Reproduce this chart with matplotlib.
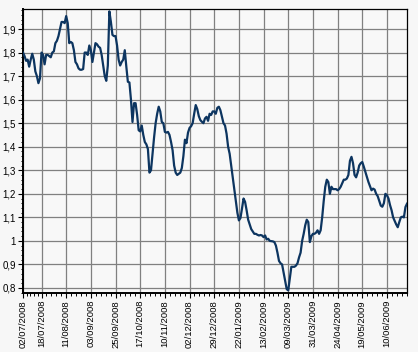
import matplotlib
matplotlib.use("Agg")
import matplotlib.pyplot as plt
import pandas as pd
import numpy as np

# Trading calendar (Borsa Italiana closures)
start_date = "2008-07-02"
n_days = 250
holidays = ["2008-08-15", "2008-12-24", "2008-12-25", "2008-12-26", "2008-12-31",
            "2009-01-01", "2009-04-10", "2009-04-13", "2009-05-01"]

values = [
    1.80, 1.785, 1.765, 1.77, 1.74, 1.77, 1.795, 1.77, 1.72, 1.70,
    1.67, 1.69, 1.80, 1.79, 1.75, 1.79, 1.79, 1.785, 1.78, 1.80,
    1.805, 1.84, 1.85, 1.87, 1.90, 1.93, 1.93, 1.925, 1.955, 1.925,
    1.84, 1.845, 1.84, 1.81, 1.76, 1.75, 1.733, 1.727, 1.727, 1.73,
    1.80, 1.80, 1.79, 1.83, 1.81, 1.76, 1.80, 1.84, 1.835, 1.825,
    1.82, 1.79, 1.745, 1.70, 1.68, 1.745, 1.975, 1.93, 1.875, 1.87,
    1.87, 1.83, 1.77, 1.745, 1.76, 1.77, 1.81, 1.74, 1.676, 1.673,
    1.60, 1.505, 1.585, 1.585, 1.535, 1.47, 1.465, 1.49, 1.45, 1.42,
    1.41, 1.39, 1.29, 1.30, 1.37, 1.44, 1.50, 1.54, 1.57, 1.55,
    1.505, 1.50, 1.463, 1.46, 1.463, 1.45, 1.42, 1.385, 1.32, 1.29,
    1.28, 1.285, 1.29, 1.31, 1.36, 1.43, 1.415, 1.46, 1.48, 1.487,
    1.50, 1.54, 1.577, 1.56, 1.53, 1.513, 1.506, 1.50, 1.52, 1.527,
    1.51, 1.54, 1.535, 1.55, 1.55, 1.54, 1.565, 1.57, 1.555, 1.527,
    1.50, 1.49, 1.455, 1.40, 1.37, 1.32, 1.27, 1.22, 1.17, 1.12,
    1.087, 1.097, 1.137, 1.18, 1.166, 1.13, 1.09, 1.07, 1.05, 1.04,
    1.03, 1.03, 1.026, 1.023, 1.025, 1.023, 1.016, 1.023, 1.006, 1.009,
    1.00, 0.999, 0.998, 0.995, 0.98, 0.95, 0.915, 0.905, 0.90, 0.865,
    0.83, 0.795, 0.79, 0.84, 0.89, 0.89, 0.89, 0.895, 0.905, 0.93,
    0.95, 1.00, 1.03, 1.066, 1.09, 1.08, 0.995, 1.02, 1.03, 1.03,
    1.035, 1.045, 1.03, 1.045, 1.10, 1.17, 1.23, 1.26, 1.25, 1.20,
    1.23, 1.22, 1.22, 1.22, 1.215, 1.22, 1.23, 1.245, 1.26, 1.26,
    1.265, 1.28, 1.34, 1.357, 1.33, 1.28, 1.27, 1.29, 1.32, 1.33,
    1.335, 1.315, 1.293, 1.27, 1.25, 1.232, 1.215, 1.222, 1.218, 1.20,
    1.19, 1.17, 1.15, 1.145, 1.16, 1.20, 1.194, 1.18, 1.152, 1.13,
    1.10, 1.085, 1.07, 1.058, 1.08, 1.10, 1.103, 1.10, 1.144, 1.158,
]

tick_labels = ["02/07/2008", "18/07/2008", "11/08/2008", "03/09/2008", "25/09/2008",
               "17/10/2008", "10/11/2008", "02/12/2008", "29/12/2008", "22/01/2009",
               "13/02/2009", "09/03/2009", "31/03/2009", "24/04/2009", "19/05/2009",
               "10/06/2009"]
y_ticks = [0.8, 0.9, 1.0, 1.1, 1.2, 1.3, 1.4, 1.5, 1.6, 1.7, 1.8, 1.9]

dates = pd.bdate_range(start=start_date, periods=n_days + 20, freq="C",
                       holidays=holidays)[:len(values)]
date_str = [d.strftime("%d/%m/%Y") for d in dates]
pos = np.arange(len(values))
tick_pos = [date_str.index(t) for t in tick_labels]

bg = "#f7f7f7"
fig = plt.figure(figsize=(4.18, 3.52), dpi=100, facecolor=bg)
ax = fig.add_axes([23 / 418, 1 - 293 / 352, (407 - 23) / 418, (293 - 9) / 352])
ax.set_facecolor("#f8f8f8")

ax.plot(pos, values, color="#0d3560", lw=1.6, solid_joinstyle="round", zorder=3)

ax.set_xlim(0, len(values) - 1)
ax.set_ylim(0.7787, 1.985)

ax.set_xticks(tick_pos)
ax.set_xticklabels(tick_labels, rotation=90, family="Liberation Sans", fontsize=6.8)
minor_x = []
for a, b in zip(tick_pos[:-1], tick_pos[1:]):
    step = (b - a) / 5
    minor_x += [a + k * step for k in range(1, 5)]
last = tick_pos[-1]
step16 = 16 / 5
k = 1
while last + k * step16 <= len(values) - 1:
    minor_x.append(last + k * step16)
    k += 1
ax.set_xticks(minor_x, minor=True)

ax.set_yticks(y_ticks)
ax.set_yticklabels([("%g" % v).replace(".", ",") for v in y_ticks],
                   family="Liberation Sans", fontsize=7)
ax.set_yticks(np.arange(0.78, 1.985, 0.02), minor=True)

ax.grid(True, which="major", color="#808080", lw=0.9, zorder=1)
ax.set_axisbelow(True)

ax.tick_params(axis="both", which="major", length=3.5, width=0.8, color="#000000", pad=1.5)
ax.tick_params(axis="both", which="minor", length=1.8, width=0.7, color="#000000")

for s in ["left", "bottom"]:
    ax.spines[s].set_linewidth(1.4)
for s in ["top", "right"]:
    ax.spines[s].set_linewidth(0.9)

fig.savefig("out.png", dpi=100, facecolor=bg)
